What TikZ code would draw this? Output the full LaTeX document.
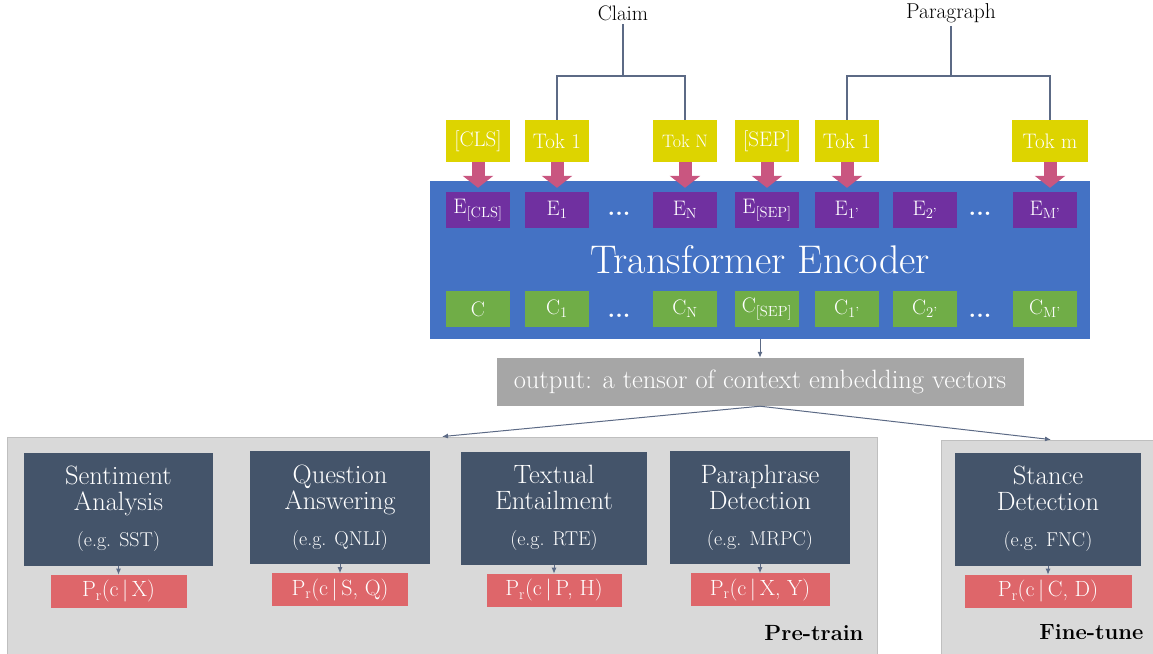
\documentclass[tikz,border=0pt]{standalone}
\usepackage{fontspec}
\usetikzlibrary{arrows.meta,positioning}

\definecolor{tokyellow}{RGB}{221,212,0}
\definecolor{feedpink}{RGB}{201,86,128}
\definecolor{encblue}{RGB}{68,114,196}
\definecolor{embpurple}{RGB}{112,48,160}
\definecolor{ctxgreen}{RGB}{112,173,71}
\definecolor{outgray}{RGB}{166,166,166}
\definecolor{panelgray}{RGB}{217,217,217}
\definecolor{slate}{RGB}{68,84,106}
\definecolor{probred}{RGB}{222,102,106}
\definecolor{linkgray}{RGB}{92,106,133}

\newcommand{\fs}[1]{\fontsize{#1}{#1}\selectfont}

\begin{document}
\begin{tikzpicture}[
    x=1pt, y=-1pt,
    box/.style={
        rectangle, inner sep=0pt, align=center, text=white
    },
    tok/.style={
        box, fill=tokyellow, minimum width=64pt, minimum height=42pt, font=\fs{21}
    },
    emb/.style={
        box, fill=embpurple, minimum width=64pt, minimum height=36pt, font=\fs{21}
    },
    ctx/.style={
        emb, fill=ctxgreen
    },
    dots/.style={
        text=white, font=\fs{24}\bfseries, inner sep=0pt
    },
    panel/.style={
        rectangle, draw=gray!50, fill=panelgray, line width=0.8pt
    },
    task/.style={
        box, fill=slate, minimum height=113pt,
        font=\fontsize{26.5}{26}\selectfont
    },
    prob/.style={
        box, fill=probred, minimum height=33pt, font=\fs{22}
    },
    link/.style={draw=linkgray, line width=1.2pt},
    seta/.style={-{Latex[length=6pt,width=5pt]}, draw=linkgray, line width=1pt},
    feed/.style={-{Triangle[width=30pt,length=12pt]}, line width=13pt, draw=feedpink}
]
\useasboundingbox (0,0) rectangle (1153,653);

% Input
\node[font=\fs{21}] (claim) at (623,13) {Claim};
\node[font=\fs{21.5}] (para) at (951,13) {Paragraph};

\node[tok] (tcls) at (478,141) {[CLS]};
\node[tok] (ta1) at (557,141) {Tok 1};
\node[tok, font=\fs{18}] (taN) at (685,141) {Tok N};
\node[tok] (tsep) at (767,141) {[SEP]};
\node[tok] (tb1) at (847,141) {Tok 1};
\node[tok, minimum width=76pt] (tbm) at (1050,141) {Tok m};

% Encoder
\node[box, fill=encblue, minimum width=660pt, minimum height=158pt,
      font=\fs{40}] (enc) at (760,260) {Transformer Encoder};

\node[emb] (ecls) at (478,210) {E\textsubscript{[CLS]}};
\node[emb] (ea1) at (557,210) {E\textsubscript{1}};
\node[dots] (edots1) at (619,214) {...};
\node[emb] (eaN) at (685,210) {E\textsubscript{N}};
\node[emb] (esep) at (767,210) {E\textsubscript{[SEP]}};
\node[emb] (eb1) at (847,210) {E\textsubscript{1'}};
\node[emb] (eb2) at (925,210) {E\textsubscript{2'}};
\node[dots] (edots2) at (980,214) {...};
\node[emb] (ebm) at (1045,210) {E\textsubscript{M'}};

\node[ctx] (ccls) at (478,309) {C};
\node[ctx] (ca1) at (557,309) {C\textsubscript{1}};
\node[dots] (cdots1) at (619,316) {...};
\node[ctx] (caN) at (685,309) {C\textsubscript{N}};
\node[ctx] (csep) at (767,309) {C\textsubscript{[SEP]}};
\node[ctx] (cb1) at (847,309) {C\textsubscript{1'}};
\node[ctx] (cb2) at (925,309) {C\textsubscript{2'}};
\node[dots] (cdots2) at (980,316) {...};
\node[ctx] (cbm) at (1045,309) {C\textsubscript{M'}};

\node[box, fill=outgray, minimum width=527pt, minimum height=48pt,
      font=\fs{26.5}] (out) at (760,382) {output: a tensor of context embedding vectors};

% Tasks
\node[panel, minimum width=870pt, minimum height=222pt] (pre) at (442,548) {};
\node[panel, minimum width=220pt, minimum height=218pt] (ft) at (1051,549) {};
\node[font=\fs{22}\bfseries, anchor=east] (pretxt) at (867,633) {Pre-train};
\node[font=\fs{22}\bfseries, anchor=east] (fttxt) at (1147,632) {Fine-tune};

\node[task, minimum width=189pt] (sa) at (118.5,509) {Sentiment\\Analysis\\[10pt]{\fs{20}(e.g. SST)}};
\node[task, minimum width=180pt] (qa) at (340,507.5) {Question\\Answering\\[10pt]{\fs{20}(e.g. QNLI)}};
\node[task, minimum width=186pt] (te) at (554,508) {Textual\\Entailment\\[10pt]{\fs{20}(e.g. RTE)}};
\node[task, minimum width=180pt] (pd) at (760,507.5) {Paraphrase\\Detection\\[10pt]{\fs{20}(e.g. MRPC)}};
\node[task, minimum width=186pt] (sd) at (1048,509) {Stance\\Detection\\[10pt]{\fs{20}(e.g. FNC)}};

\node[prob, minimum width=136pt, below=9pt of sa] (psa) {P\textsubscript{r}(c\,|\,X)};
\node[prob, minimum width=136pt, below=9pt of qa] (pqa) {P\textsubscript{r}(c\,|\,S, Q)};
\node[prob, minimum width=135pt, below=9pt of te] (pte) {P\textsubscript{r}(c\,|\,P, H)};
\node[prob, minimum width=139pt, below=9pt of pd] (ppd) {P\textsubscript{r}(c\,|\,X, Y)};
\node[prob, minimum width=167pt, below=9pt of sd] (psd) {P\textsubscript{r}(c\,|\,C, D)};

% Connections
\coordinate (cj) at (623,76);
\coordinate (pj) at (951,76);
\draw[link] (claim.south) -- (cj);
\draw[link] (ta1.north) |- (cj) -| (taN.north);
\draw[link] (para.south) -- (pj);
\draw[link] (tb1.north) |- (pj) -| (tbm.north);

\draw[feed] (tcls.south) -- ([yshift=4pt]ecls.north);
\draw[feed] (ta1.south) -- ([yshift=4pt]ea1.north);
\draw[feed] (taN.south) -- ([yshift=4pt]eaN.north);
\draw[feed] (tsep.south) -- ([yshift=4pt]esep.north);
\draw[feed] (tb1.south) -- ([yshift=4pt]eb1.north);
\draw[feed] (tbm.south) -- ([yshift=4pt]tbm.south |- ebm.north);

\draw[seta] (enc.south) -- (out.north);
\draw[seta] (out.south) -- (pre.north);
\draw[seta] (out.south) -- (ft.north);

\draw[seta] (sa) -- (psa);
\draw[seta] (qa) -- (pqa);
\draw[seta] (te) -- (pte);
\draw[seta] (pd) -- (ppd);
\draw[seta] (sd) -- (psd);

\end{tikzpicture}
\end{document}
